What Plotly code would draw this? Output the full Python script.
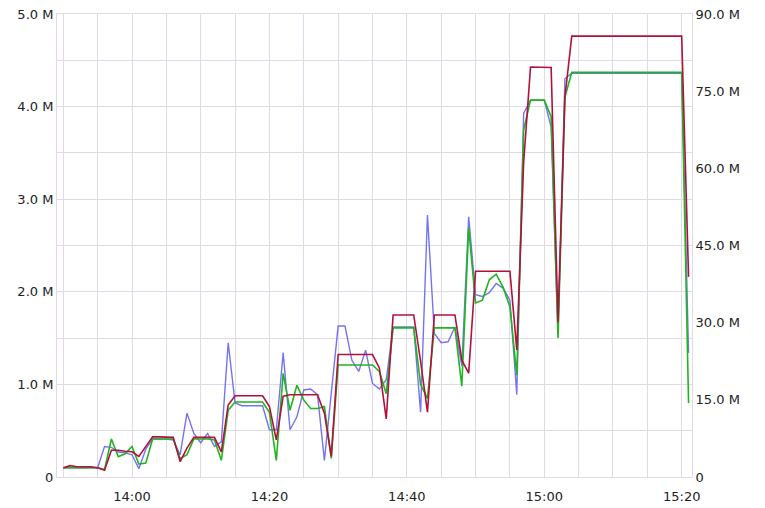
import pandas as pd
import plotly.graph_objects as go

# one sample per minute, 13:50 .. 15:21
start_time = "2024-01-01 13:50"
n_points = 92

# left axis (millions)
blue_vals = [0.1, 0.1, 0.1, 0.1, 0.1, 0.1, 0.33, 0.32, 0.27, 0.26,
             0.24, 0.09, 0.3, 0.41, 0.41, 0.41, 0.4, 0.24, 0.69, 0.47,
             0.37, 0.47, 0.33, 0.38, 1.45, 0.8, 0.77, 0.77, 0.77, 0.77,
             0.51, 0.51, 1.34, 0.51, 0.65, 0.94, 0.95, 0.89, 0.18, 0.9,
             1.63, 1.63, 1.26, 1.14, 1.37, 1.01, 0.95, 1.05, 1.62, 1.62,
             1.62, 1.62, 0.7, 2.83, 1.55, 1.45, 1.46, 1.62, 1.2, 2.81,
             1.97, 1.95, 1.99, 2.09, 2.04, 1.91, 0.89, 3.93, 4.07, 4.07,
             4.07, 3.78, 1.55, 4.3, 4.36, 4.36, 4.36, 4.36, 4.36, 4.36,
             4.36, 4.36, 4.36, 4.36, 4.36, 4.36, 4.36, 4.36, 4.36, 4.36,
             4.36, 1.34]

green_vals = [0.1, 0.1, 0.1, 0.1, 0.1, 0.1, 0.08, 0.41, 0.22, 0.25,
              0.33, 0.14, 0.15, 0.41, 0.41, 0.41, 0.41, 0.2, 0.24, 0.41,
              0.41, 0.41, 0.4, 0.18, 0.72, 0.81, 0.81, 0.81, 0.81, 0.81,
              0.7, 0.18, 1.12, 0.72, 0.99, 0.83, 0.74, 0.74, 0.76, 0.2,
              1.21, 1.21, 1.21, 1.21, 1.21, 1.21, 1.14, 0.9, 1.61, 1.61,
              1.61, 1.61, 1.0, 0.85, 1.61, 1.61, 1.61, 1.61, 0.98, 2.69,
              1.88, 1.91, 2.13, 2.19, 2.05, 1.84, 1.1, 3.75, 4.07, 4.07,
              4.07, 3.89, 1.5, 4.1, 4.37, 4.37, 4.37, 4.37, 4.37, 4.37,
              4.37, 4.37, 4.37, 4.37, 4.37, 4.37, 4.37, 4.37, 4.37, 4.37,
              4.37, 0.8]

# right axis (millions)
red_vals = [1.8, 2.2, 2.0, 2.0, 2.0, 1.8, 1.3, 5.2, 5.2, 5.0,
            4.9, 4.0, 5.9, 7.8, 7.8, 7.8, 7.7, 3.0, 5.6, 7.7,
            7.7, 7.7, 7.7, 4.9, 14.0, 15.8, 15.8, 15.8, 15.8, 15.8,
            13.7, 7.2, 15.7, 16.0, 16.0, 16.0, 16.0, 16.0, 12.4, 4.0,
            23.8, 23.8, 23.8, 23.8, 23.8, 23.8, 21.2, 11.3, 31.5, 31.5,
            31.5, 31.5, 22.5, 12.6, 31.5, 31.5, 31.5, 31.5, 22.7, 20.2,
            40.0, 40.0, 40.0, 40.0, 40.0, 40.0, 24.7, 61.2, 79.7, 79.7,
            79.7, 79.6, 30.1, 73.8, 85.7, 85.7, 85.7, 85.7, 85.7, 85.7,
            85.7, 85.7, 85.7, 85.7, 85.7, 85.7, 85.7, 85.7, 85.7, 85.7,
            85.7, 38.9]

left_tick_vals = [0, 1, 2, 3, 4, 5]
left_tick_text = ["0", "1.0 M", "2.0 M", "3.0 M", "4.0 M", "5.0 M"]
right_tick_vals = [0, 15, 30, 45, 60, 75, 90]
right_tick_text = ["0", "15.0 M", "30.0 M", "45.0 M", "60.0 M", "75.0 M", "90.0 M"]

times = pd.date_range(start_time, periods=n_points, freq="1min")

grid_c = "#e3d8e6"
font = dict(family="DejaVu Sans", size=13, color="#222222")

fig = go.Figure()
fig.add_trace(go.Scatter(x=times, y=blue_vals, mode="lines",
                         line=dict(color="#7474f0", width=1.4), yaxis="y"))
fig.add_trace(go.Scatter(x=times, y=green_vals, mode="lines",
                         line=dict(color="#1fb51f", width=1.6), yaxis="y"))
fig.add_trace(go.Scatter(x=times, y=red_vals, mode="lines",
                         line=dict(color="#b0123c", width=1.6), yaxis="y2"))

fig.update_layout(
    width=765, height=508,
    margin=dict(l=57, r=73, t=14, b=31),
    paper_bgcolor="white", plot_bgcolor="white",
    showlegend=False,
    font=font,
    xaxis=dict(
        range=["2024-01-01 13:49:05", "2024-01-01 15:21:30"],
        tickformat="%H:%M", dtick=20 * 60 * 1000,
        tick0="2024-01-01 14:00",
        showgrid=True, gridcolor=grid_c, gridwidth=1,
        minor=dict(dtick=5 * 60 * 1000, tick0="2024-01-01 13:50",
                   showgrid=True, gridcolor=grid_c, gridwidth=1),
        showline=True, linecolor=grid_c, mirror=True,
        zeroline=False, ticks="", ticklen=0, ticklabelstandoff=7,
        tickfont=font, automargin=False,
    ),
    yaxis=dict(
        range=[0, 5], tickvals=left_tick_vals, ticktext=left_tick_text,
        showgrid=True, gridcolor=grid_c, gridwidth=1,
        minor=dict(dtick=0.5, showgrid=True, gridcolor=grid_c, gridwidth=1),
        showline=True, linecolor=grid_c, zeroline=False,
        ticks="", ticklen=0, tickfont=font, automargin=False,
    ),
    yaxis2=dict(
        range=[0, 90], tickvals=right_tick_vals, ticktext=right_tick_text,
        overlaying="y", side="right", showgrid=False,
        showline=True, linecolor=grid_c, zeroline=False,
        ticks="", ticklen=0, tickfont=font, automargin=False,
    ),
)

fig.write_html("out.html",
               config={"displayModeBar": False},
               post_script="document.body.style.margin='0';document.body.style.overflow='hidden';")
